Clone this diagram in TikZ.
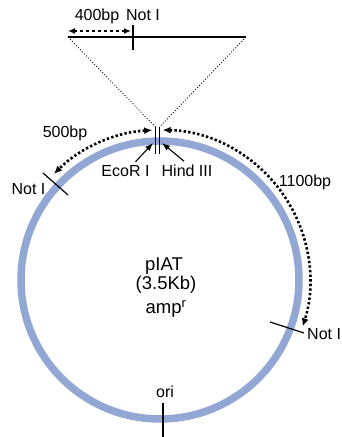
\documentclass[tikz,border=0pt]{standalone}
\usepackage{fontspec}
\setmainfont{Liberation Sans}
\usetikzlibrary{arrows.meta}

\definecolor{ringblue}{RGB}{146,167,212}

\begin{document}
\begin{tikzpicture}[x = 1pt, y = 1pt, font = \fontsize{16}{19}\selectfont,
	lbl/.style = {anchor = base, inner sep = 0pt},
	big/.style = {lbl, font = \fontsize{18.5}{22}\selectfont},
	cut/.style = {line width = 1.2pt},
	bp/.style = {<->, > = {Latex[length = 8pt, width = 7pt]}, line width = 2.6pt, dash pattern = on 2.4pt off 2.2pt},
	ptr/.style = {->, > = {Latex[length = 8pt, width = 6pt]}, line width = 1.1pt}]

	\useasboundingbox (0, 0) rectangle (342, 437);

	% Plasmid ring with its name
	
	\coordinate (c) at (160, 157);
	\draw [ringblue, line width = 7.5pt] (c) circle [radius = 139];
	
	\node (name) at (164, 166) [big] {pIAT};
	\node (size) at (166, 147) [big] {(3.5Kb)};
	\node (amp) at (166, 123) [big] {amp\textsuperscript{r}};

	% Insert fragment with its Not I site
	
	\coordinate (insl) at (68, 400);
	\coordinate (insr) at (246, 400);
	\draw [line width = 1.2pt] (insl) -- (insr);
	\draw [cut] (133, 412) -- (133, 387);
	
	\coordinate (d0) at (68, 406);
	\coordinate (d1) at (131, 406);
	\draw [<->, > = {Latex[length = 7pt, width = 6pt]}, dashed, line width = 1.4pt] (d0) -- (d1);
	\node (bp400) at (97, 416) [lbl] {400bp};
	\node (notit) at (143, 416) [lbl] {Not I};

	% Cloning sites and projection of the insert
	
	\foreach \x/\name in {155.5/cutl, 159.5/cutr}
	{
		\coordinate (\name) at (\x, 310);
		\draw [line width = 1pt] (\name) -- ++(0, -27);
	}
	\coordinate (ecotip) at (153, 294);
	\coordinate (hindtip) at (162, 294);
	
	\draw [dotted, line width = 0.9pt] (insl) -- (cutl);
	\draw [dotted, line width = 0.9pt] (insr) -- (cutr);
	
	\node (ecor) at (125.5, 260) [lbl] {EcoR I};
	\node (hind) at (187, 260) [lbl] {Hind III};
	\draw [ptr] ([xshift = 10pt, yshift = 4pt] ecor.north) -- (ecotip);
	\draw [ptr] ([xshift = -3pt, yshift = 4pt] hind.north) -- (hindtip);

	% Distances round the ring
	
	\draw [bp] (c) ++(93:150) arc [start angle = 93, end angle = 135, radius = 150];
	\draw [bp] (c) ++(89:150) arc [start angle = 89, end angle = -18, radius = 150];
	\node (bp500) at (65, 299) [lbl] {500bp};
	\node (bp1100) at (305, 250) [lbl] {1100bp};

	% Not I sites and origin
	
	\draw [cut] (43, 264) -- (68, 242);
	\node (notil) at (28.5, 242) [lbl] {Not I};
	\draw [cut] (270, 115) -- (304, 104);
	\node (notir) at (307, 97) [lbl, anchor = base west] {Not I};
	\draw [cut] (163, 34) -- (163, 0);
	\node (ori) at (165, 39) [lbl] {ori};
	
\end{tikzpicture}
\end{document}
